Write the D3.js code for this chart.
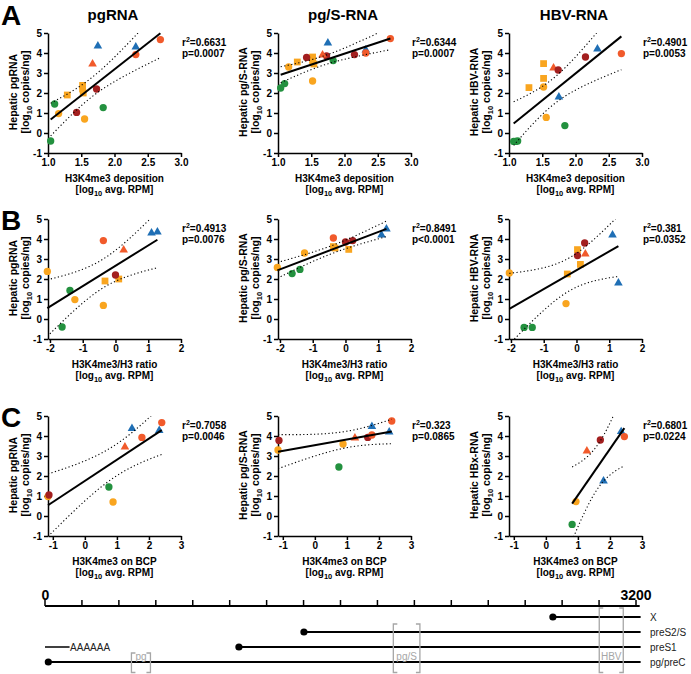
<!DOCTYPE html>
<html>
<head>
<meta charset="utf-8">
<script src="https://cdn.jsdelivr.net/npm/d3@7"></script>
<style>
  body { margin: 0; background: #fff; }
  svg { font-family: "Liberation Sans", Arial, sans-serif; }
</style>
</head>
<body>
<div id="chart"></div>
<script>
// ---- data ----
const colTitles = ["pgRNA", "pg/S-RNA", "HBV-RNA"];
const rowLetters = ["A", "B", "C"];
const xTitles = ["H3K4me3 deposition", "H3K4me3/H3 ratio", "H3K4me3 on BCP"];
const yNames = [
    ["pgRNA", "pg/S-RNA", "HBV-RNA"],
    ["pgRNA", "pg/S-RNA", "HBV-RNA"],
    ["pgRNA", "pg/S-RNA", "HBx-RNA"]
];
const xTicks = [[1.0, 1.5, 2.0, 2.5, 3.0], [-2, -1, 0, 1, 2], [-1, 0, 1, 2, 3]];
const yTicks = [-1, 0, 1, 2, 3, 4, 5];
const r2Labels = [["0.6631", "0.6344", "0.4901"], ["0.4913", "0.8491", "0.381"], ["0.7058", "0.323", "0.6801"]];
const pLabels = [["p=0.0007", "p=0.0007", "p=0.0053"], ["p=0.0076", "p<0.0001", "p=0.0352"], ["p=0.0046", "p=0.0865", "p=0.0224"]];

// [x, y, group]  gc green circle, oc orange circle, os orange square,
// dc dark red circle, rc red circle, rt red triangle, bt blue triangle
const a1 = [[1.04,-0.4,"gc"],[1.10,1.45,"gc"],[1.16,0.97,"oc"],[1.29,1.9,"os"],[1.52,2.38,"os"],[1.52,2.2,"os"],
    [1.53,2.0,"os"],[1.55,0.7,"oc"],[1.43,1.03,"dc"],[1.73,2.2,"dc"],[1.67,3.45,"rt"],[1.75,4.35,"bt"],
    [2.32,4.3,"bt"],[2.32,3.92,"rc"],[2.69,4.67,"rc"],[1.83,1.27,"gc"]];
const a2 = [[1.04,2.25,"gc"],[1.10,2.47,"gc"],[1.16,3.3,"oc"],[1.29,3.55,"os"],[1.52,3.8,"os"],[1.52,3.62,"os"],
    [1.54,3.45,"os"],[1.52,2.6,"oc"],[1.43,3.78,"dc"],[1.73,3.85,"dc"],[1.67,3.9,"rt"],[1.75,4.5,"bt"],
    [2.32,4.15,"bt"],[2.32,4.0,"rc"],[2.69,4.72,"rc"],[1.83,3.62,"gc"],[2.15,3.92,"dc"]];
const a3 = [[1.07,-0.42,"gc"],[1.10,-0.42,"gc"],[1.13,-0.4,"gc"],[1.84,0.37,"gc"],[1.56,0.78,"oc"],[1.52,2.3,"oc"],
    [1.3,2.27,"os"],[1.52,2.73,"os"],[1.52,3.47,"os"],[1.67,3.25,"rt"],[1.74,3.15,"dc"],[2.15,3.8,"dc"],
    [2.33,4.2,"bt"],[1.75,1.8,"bt"],[2.69,3.97,"rc"]];
const b1 = [[-2.08,2.38,"oc"],[-1.39,1.43,"gc"],[-1.24,0.97,"oc"],[-1.63,-0.4,"gc"],[-0.37,3.92,"rc"],[-0.37,0.68,"oc"],
    [-0.32,1.9,"os"],[0.1,2.0,"os"],[0.0,2.2,"dc"],[0.25,3.45,"rt"],[1.1,4.3,"bt"],[1.28,4.35,"bt"]];
const b2 = [[-2.08,2.58,"oc"],[-1.63,2.27,"gc"],[-1.39,2.48,"gc"],[-1.25,3.3,"oc"],[-0.37,4.05,"rc"],[-0.37,3.62,"os"],
    [-0.32,3.55,"os"],[0.1,3.48,"os"],[0.0,3.85,"dc"],[0.22,3.92,"dc"],[1.1,4.2,"bt"],[1.25,4.5,"bt"]];
const b3 = [[-2.05,2.3,"oc"],[-1.6,-0.42,"gc"],[-1.35,-0.42,"gc"],[-0.32,0.77,"oc"],[-0.28,2.25,"os"],[0.03,3.47,"os"],
    [0.12,2.73,"os"],[0.03,3.17,"dc"],[0.25,3.8,"dc"],[0.27,3.25,"rt"],[1.1,4.2,"bt"],[1.28,1.8,"bt"]];
const c1 = [[-1.15,0.97,"oc"],[-1.12,1.05,"dc"],[0.75,1.45,"gc"],[0.88,0.7,"oc"],[1.25,3.45,"rt"],[1.47,4.38,"bt"],
    [1.78,3.93,"rc"],[2.32,4.28,"bt"],[2.4,4.67,"rc"]];
const c2 = [[-1.12,3.78,"dc"],[-1.15,3.3,"oc"],[0.75,2.45,"gc"],[0.88,3.6,"oc"],[1.25,3.9,"rt"],[1.65,3.93,"dc"],
    [1.78,4.05,"rc"],[1.78,4.48,"bt"],[2.4,4.75,"rc"],[2.32,4.2,"bt"]];
const c3 = [[0.82,-0.42,"gc"],[0.94,0.72,"oc"],[1.28,3.25,"rt"],[1.7,3.8,"dc"],[1.8,1.75,"bt"],[2.35,4.22,"bt"],[2.45,3.97,"rc"]];

// genome map (nt positions)
const genomeLength = 3200;
const transcriptNames = ["X", "preS2/S", "preS1", "pg/preC"];
const transcriptStarts = [2750, 1402, 1050, 18];
const transcriptEnd = 3225;
const polyA = [0, 133];
const probeNames = ["pg", "pg/S", "HBV"];
const probeStarts = [468, 1886, 3001];
const probeEnds = [571, 2030, 3131];

// ---- layout / style ----
const panelData = [[a1, a2, a3], [b1, b2, b3], [c1, c2, c3]];
const colLeft = [48, 278, 509];
const rowY = [[33, 153], [219, 339], [416, 536]];
const xDomains = [[1, 3], [-2.06, 2], [-1.15, 3]];
const plotW = 133;
const groupStyle = {
    gc: [d3.symbolCircle, "#23913f", 42],
    oc: [d3.symbolCircle, "#f9a51f", 42],
    os: [d3.symbolSquare, "#f9a51f", 46],
    dc: [d3.symbolCircle, "#a31f1f", 42],
    rc: [d3.symbolCircle, "#f15a2b", 42],
    rt: [d3.symbolTriangle, "#f15a2b", 32],
    bt: [d3.symbolTriangle, "#1f6fb5", 32]
};
// two-sided 95% t critical values by degrees of freedom
const tCrit = {3: 3.182, 4: 2.776, 5: 2.571, 6: 2.447, 7: 2.365, 8: 2.306, 9: 2.262, 10: 2.228,
    11: 2.201, 12: 2.179, 13: 2.160, 14: 2.145, 15: 2.131, 16: 2.120};

const svg = d3.select("#chart").append("svg")
    .attr("width", 691)
    .attr("height", 674);

function linFit(pts) {
    const n = pts.length;
    const mx = d3.mean(pts, d => d[0]), my = d3.mean(pts, d => d[1]);
    const sxx = d3.sum(pts, d => (d[0] - mx) ** 2);
    const sxy = d3.sum(pts, d => (d[0] - mx) * (d[1] - my));
    const slope = sxy / sxx, icpt = my - slope * mx;
    const ssr = d3.sum(pts, d => (d[1] - (icpt + slope * d[0])) ** 2);
    const s = Math.sqrt(ssr / (n - 2));
    return {n, mx, sxx, slope, icpt, s, t: tCrit[n - 2]};
}

function logLabel(sel, x, y, pre, post) {
    const t = sel.append("text").attr("x", x).attr("y", y).attr("text-anchor", "middle");
    t.append("tspan").text(pre);
    t.append("tspan").attr("font-size", 7.5).attr("dy", 3).text("10");
    t.append("tspan").attr("dy", -3).text(post);
    return t;
}

panelData.forEach((row, ri) => {
    row.forEach((pts, ci) => {
        const left = colLeft[ci];
        const [top, bottom] = rowY[ri];
        const x = d3.scaleLinear().domain(xDomains[ri]).range([left, left + plotW]);
        const y = d3.scaleLinear().domain([-1, 5]).range([bottom, top]);
        const g = svg.append("g");

        const clipId = `clip${ri}${ci}`;
        g.append("clipPath").attr("id", clipId).append("rect")
            .attr("x", left).attr("y", top).attr("width", plotW + 2).attr("height", bottom - top);

        // axes
        const xa = g.append("g")
            .attr("transform", `translate(0,${bottom})`)
            .call(d3.axisBottom(x).tickValues(xTicks[ri]).tickSize(4).tickSizeOuter(0).tickPadding(2)
                .tickFormat(d => ri == 0 ? d.toFixed(1) : String(d)));
        const ya = g.append("g")
            .attr("transform", `translate(${left},0)`)
            .call(d3.axisLeft(y).tickValues(yTicks).tickSize(4).tickSizeOuter(0).tickPadding(2)
                .tickFormat(d => String(d)));
        [xa, ya].forEach(a => {
            a.selectAll("path, line").attr("stroke", "#000").attr("stroke-width", 1.5);
            a.selectAll("text").attr("fill", "#000").attr("font-size", 10).attr("font-weight", "bold")
                .attr("font-family", "Liberation Sans, Arial, sans-serif");
        });

        // points
        g.selectAll("path.pt")
            .data(pts)
            .join("path")
            .attr("class", "pt")
            .attr("transform", d => `translate(${x(d[0])},${y(d[1])})`)
            .attr("d", d => d3.symbol().type(groupStyle[d[2]][0]).size(groupStyle[d[2]][2])())
            .attr("fill", d => groupStyle[d[2]][1]);

        // regression with 95% confidence band
        const f = linFit(pts);
        const [x0, x1] = d3.extent(pts, d => d[0]);
        const xs = d3.range(0, 61).map(i => x0 + (x1 - x0) * i / 60);
        const band = sgn => xs.map(v => [v, f.icpt + f.slope * v +
            sgn * f.t * f.s * Math.sqrt(1 / f.n + (v - f.mx) ** 2 / f.sxx)]);
        const line = d3.line().x(d => x(d[0])).y(d => y(d[1]));
        [1, -1].forEach(sgn => {
            g.append("path")
                .datum(band(sgn))
                .attr("clip-path", `url(#${clipId})`)
                .attr("fill", "none")
                .attr("stroke", "#000")
                .attr("stroke-width", 1.1)
                .attr("stroke-dasharray", "1.2,2.4")
                .attr("d", line);
        });
        g.append("path")
            .datum([[x0, f.icpt + f.slope * x0], [x1, f.icpt + f.slope * x1]])
            .attr("fill", "none")
            .attr("stroke", "#000")
            .attr("stroke-width", 2)
            .attr("d", line);

        // texts
        const st = g.append("g").attr("font-size", 10).attr("font-weight", "bold");
        const r2 = st.append("text").attr("x", left + 134).attr("y", top + 12.5);
        r2.append("tspan").text("r");
        r2.append("tspan").attr("font-size", 7).attr("dy", -4).text("2");
        r2.append("tspan").attr("dy", 4).text("=" + r2Labels[ri][ci]);
        st.append("text").attr("x", left + 134).attr("y", top + 23.5).text(pLabels[ri][ci]);

        const xt = g.append("g").attr("font-size", 10).attr("font-weight", "bold");
        xt.append("text").attr("x", left + 66.5).attr("y", bottom + 28.5)
            .attr("text-anchor", "middle").text(xTitles[ri]);
        logLabel(xt, left + 66.5, bottom + 39.5, "[log", " avg. RPM]");

        const midY = (top + bottom) / 2 - 1;
        const yt = g.append("g").attr("font-size", 10.5).attr("font-weight", "bold");
        yt.append("text").attr("transform", `translate(${left - 31},${midY}) rotate(-90)`)
            .attr("text-anchor", "middle").text("Hepatic " + yNames[ri][ci]);
        const l2 = yt.append("g").attr("transform", `translate(${left - 19},${midY}) rotate(-90)`);
        logLabel(l2, 0, 0, "[log", " copies/ng]");

        if (ri == 0) {
            g.append("text").attr("x", left + 65).attr("y", 19.5)
                .attr("text-anchor", "middle").attr("font-size", 15).attr("font-weight", "bold")
                .text(colTitles[ci]);
        }
        if (ci == 0) {
            g.append("text").attr("x", 1).attr("y", ri == 0 ? top - 8 : top + 11)
                .attr("font-size", 28).attr("font-weight", "bold").text(rowLetters[ri]);
        }
    });
});

// ---- genome map ----
const gx = d3.scaleLinear().domain([0, genomeLength]).range([45, 636]);
const rulerY = 606;
const rowYs = [617, 632, 647, 662];
const map = svg.append("g");

map.append("line").attr("x1", gx(0)).attr("x2", gx(3220)).attr("y1", rulerY).attr("y2", rulerY)
    .attr("stroke", "#000").attr("stroke-width", 2);
map.selectAll("line.tick")
    .data(d3.range(0, genomeLength + 1, 200))
    .join("line")
    .attr("class", "tick")
    .attr("x1", d => gx(d)).attr("x2", d => gx(d))
    .attr("y1", rulerY).attr("y2", rulerY - 6)
    .attr("stroke", "#000").attr("stroke-width", 1.5);
[0, genomeLength].forEach(v => {
    map.append("text").attr("x", gx(v) + (v ? 0 : 0.5)).attr("y", 600).attr("text-anchor", "middle")
        .attr("font-size", 14).attr("font-weight", "bold").text(String(v));
});

transcriptNames.forEach((name, i) => {
    const yy = rowYs[i];
    map.append("line").attr("x1", gx(transcriptStarts[i])).attr("x2", gx(transcriptEnd))
        .attr("y1", yy).attr("y2", yy).attr("stroke", "#000").attr("stroke-width", 2);
    map.append("circle").attr("cx", gx(transcriptStarts[i])).attr("cy", yy).attr("r", 3.6).attr("fill", "#000");
    map.append("text").attr("x", 650).attr("y", yy + 3.5).attr("font-size", 10).attr("fill", "#222").text(name);
});

// poly-A tail of the preS1 row
map.append("line").attr("x1", gx(polyA[0])).attr("x2", gx(polyA[1]))
    .attr("y1", rowYs[2]).attr("y2", rowYs[2]).attr("stroke", "#000").attr("stroke-width", 1.5);
map.append("text").attr("x", gx(polyA[1]) + 0.5).attr("y", rowYs[2] + 3.5)
    .attr("font-size", 10).attr("fill", "#222").text("AAAAAA");

// probe brackets
const probeTop = [rowYs[3] - 9, rowYs[1] - 8, rowYs[0] - 9];
probeNames.forEach((name, i) => {
    const xa = gx(probeStarts[i]), xb = gx(probeEnds[i]), t = probeTop[i], b = 672.5;
    map.append("path")
        .attr("d", `M${xa + 4},${t}H${xa}V${b}H${xa + 4}M${xb - 4},${t}H${xb}V${b}H${xb - 4}`)
        .attr("fill", "none").attr("stroke", "#a6a6a6").attr("stroke-width", 1.3);
    map.append("text").attr("x", (xa + xb) / 2).attr("y", 659.5).attr("text-anchor", "middle")
        .attr("font-size", 10).attr("fill", "#a6a6a6").text(name);
});
</script>
</body>
</html>
